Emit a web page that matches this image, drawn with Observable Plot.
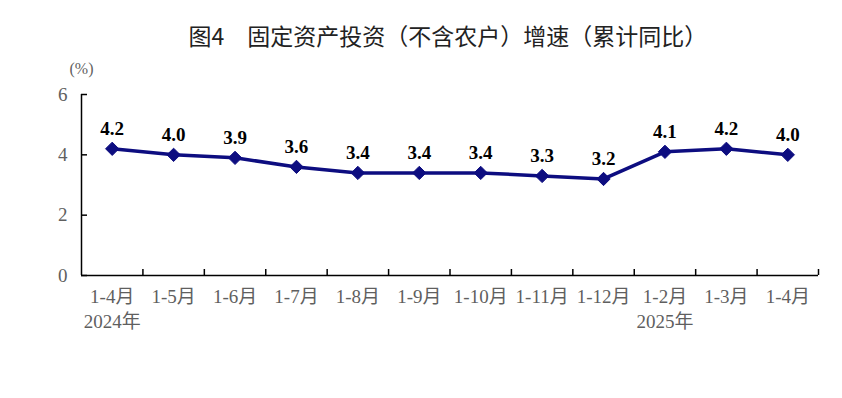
<!DOCTYPE html>
<html>
<head>
<meta charset="utf-8">
<script src="https://cdn.jsdelivr.net/npm/d3@7"></script>
<script src="https://cdn.jsdelivr.net/npm/@observablehq/plot@0.6"></script>
<style>
  html, body { margin: 0; padding: 0; background: white; }
  #wrap { width: 842px; height: 398px; overflow: hidden; }
  #title {
    height: 60px; box-sizing: border-box; padding-top: 19px;
    margin-left: 54px; text-align: center;
    font-family: "Noto Sans CJK SC", sans-serif; font-size: 23px; line-height: 32px;
    color: #222;
  }
</style>
</head>
<body>
<div id="wrap">
  <div id="title">图4　固定资产投资（不含农户）增速（累计同比）</div>
  <div id="chart"></div>
</div>
<script>
const categories = ["1-4月","1-5月","1-6月","1-7月","1-8月","1-9月","1-10月","1-11月","1-12月","1-2月","1-3月","1-4月"];
const values = [4.2, 4.0, 3.9, 3.6, 3.4, 3.4, 3.4, 3.3, 3.2, 4.1, 4.2, 4.0];
const yearIndex = [0, 9];
const yearText = ["2024年", "2025年"];
const yTicks = [0, 2, 4, 6];
const unitLabel = ["(%)"];

const idx = categories.map((_, i) => i);
const boundaries = idx.map(i => i + 0.5);
const serif = '"Times New Roman", "Liberation Serif", "Noto Sans CJK SC", serif';
const navy = "#0d0d80";
const grey = "#5f5f5f";

const chart = Plot.plot({
  width: 842,
  height: 338,
  marginLeft: 81,
  marginRight: 24,
  marginTop: 34,
  marginBottom: 123,
  x: { type: "linear", domain: [-0.5, categories.length - 0.5] },
  y: { domain: [0, 6] },
  style: { fontFamily: serif, fontSize: "18px", color: grey, background: "white", overflow: "visible" },
  marks: [
    Plot.axisY({ ticks: yTicks, tickSize: 0, tickPadding: 14, tickFormat: d => String(d), label: null, fill: grey, fontSize: 19 }),
    Plot.axisY({ ticks: yTicks, tickSize: -6, tickFormat: () => "", label: null, stroke: "black", strokeWidth: 1.5 }),
    Plot.axisX({ ticks: idx, tickSize: 0, tickPadding: 14, tickFormat: i => categories[i], label: null, fill: grey, fontSize: 19 }),
    Plot.axisX({ ticks: boundaries, tickSize: -6, tickFormat: () => "", label: null, stroke: "black", strokeWidth: 1.5 }),
    Plot.ruleY([0], { stroke: "black", strokeWidth: 1.5 }),
    Plot.ruleX([-0.5], { y1: 0, y2: 6, stroke: "black", strokeWidth: 1.5 }),
    Plot.line(values, { x: (d, i) => i, y: d => d, stroke: navy, strokeWidth: 3.5 }),
    Plot.dot(values, { x: (d, i) => i, y: d => d, symbol: "diamond2", r: 6, fill: navy, stroke: navy, strokeWidth: 1 }),
    Plot.text(values, { x: (d, i) => i, y: d => d, text: d => d.toFixed(1), dy: -20, fontWeight: "bold", fontSize: 19, fill: "black" }),
    Plot.text(yearText, { x: (d, i) => yearIndex[i], y: () => 0, dy: 46, fill: grey, fontSize: 19 }),
    Plot.text(unitLabel, { x: () => -0.5, y: () => 6, dy: -26, fontSize: 16, fill: grey })
  ]
});
document.getElementById("chart").appendChild(chart);
</script>
</body>
</html>
